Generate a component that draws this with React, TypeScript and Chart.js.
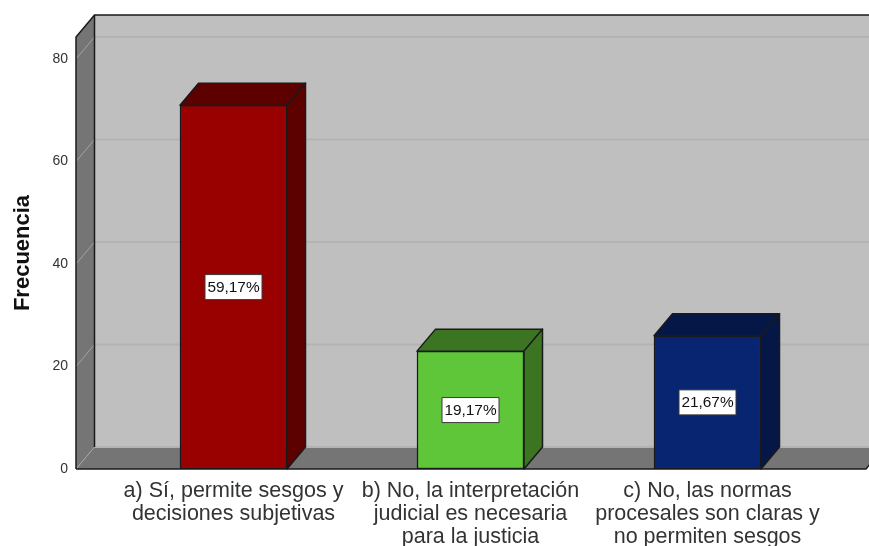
import React, { useEffect, useRef } from "react";
import { Chart, registerables } from "chart.js";

Chart.register(...registerables);

const categories = [
  ["a) Sí, permite sesgos y", "decisiones subjetivas"],
  ["b) No, la interpretación", "judicial es necesaria", "para la justicia"],
  ["c) No, las normas", "procesales son claras y", "no permiten sesgos"],
];
const frequencies = [71, 23, 26];
const percentLabels = ["59,17%", "19,17%", "21,67%"];
const frontColors = ["#990000", "#5ec638", "#072570"];
const shadeColors = ["#5c0000", "#3b7522", "#041746"];
const yTicks = [0, 20, 40, 60, 80];

const FONT = "'Liberation Sans', Arial, sans-serif";
const DX = 18.5;
const DY = 22;
const EDGE = "#1a1a1a";

function poly(ctx: CanvasRenderingContext2D, pts: number[][], fill: string | null, stroke: string | null, lw = 1.5) {
  ctx.beginPath();
  pts.forEach((p, i) => (i ? ctx.lineTo(p[0], p[1]) : ctx.moveTo(p[0], p[1])));
  ctx.closePath();
  if (fill) {
    ctx.fillStyle = fill;
    ctx.fill();
  }
  if (stroke) {
    ctx.strokeStyle = stroke;
    ctx.lineWidth = lw;
    ctx.lineJoin = "round";
    ctx.stroke();
  }
}

const box3d = {
  id: "box3d",
  beforeDatasetsDraw(chart: any) {
    const { ctx, chartArea, scales } = chart;
    const y = scales.y;
    const left = chartArea.left - 39;
    const right = chartArea.right + 40;
    const top = chartArea.top;
    const bottom = chartArea.bottom;
    ctx.save();
    poly(ctx, [[left + DX, top - DY], [right + DX, top - DY], [right + DX, bottom - DY], [left + DX, bottom - DY]], "#bfbfbf", null);
    poly(ctx, [[left, top], [left + DX, top - DY], [left + DX, bottom - DY], [left, bottom]], "#757575", null);
    poly(ctx, [[left, bottom], [left + DX, bottom - DY], [right + DX, bottom - DY], [right, bottom]], "#757575", null);
    yTicks.forEach((v) => {
      const py = y.getPixelForValue(v);
      ctx.strokeStyle = "#b3b3b3";
      ctx.lineWidth = 2;
      ctx.beginPath();
      ctx.moveTo(left + DX, py - DY);
      ctx.lineTo(right + DX, py - DY);
      ctx.stroke();
      ctx.strokeStyle = "#a3a3a3";
      ctx.lineWidth = 1;
      ctx.beginPath();
      ctx.moveTo(left, py);
      ctx.lineTo(left + DX, py - DY);
      ctx.stroke();
    });
    ctx.strokeStyle = EDGE;
    ctx.lineWidth = 1.5;
    ctx.beginPath();
    ctx.moveTo(left, bottom);
    ctx.lineTo(left, top);
    ctx.lineTo(left + DX, top - DY);
    ctx.lineTo(right + DX, top - DY);
    ctx.moveTo(left + DX, top - DY);
    ctx.lineTo(left + DX, bottom - DY);
    ctx.moveTo(left, bottom);
    ctx.lineTo(right, bottom);
    ctx.lineTo(right + DX, bottom - DY);
    ctx.stroke();
    ctx.restore();
  },
  afterDatasetsDraw(chart: any) {
    const { ctx } = chart;
    const bars = chart.getDatasetMeta(0).data;
    ctx.save();
    bars.forEach((bar: any, i: number) => {
      const { x, y, base, width } = bar.getProps(["x", "y", "base", "width"], true);
      const l = x - width / 2;
      const r = x + width / 2;
      poly(ctx, [[l, y], [l + DX, y - DY], [r + DX, y - DY], [r, y]], shadeColors[i], EDGE);
      poly(ctx, [[r, y], [r + DX, y - DY], [r + DX, base - DY], [r, base]], shadeColors[i], EDGE);
      const label = percentLabels[i];
      const cy = (y + base) / 2;
      ctx.font = `15.4px ${FONT}`;
      const bw = 57;
      const bh = 25;
      ctx.fillStyle = "#ffffff";
      ctx.fillRect(x - bw / 2, cy - bh / 2, bw, bh);
      ctx.strokeStyle = "#3a3a3a";
      ctx.lineWidth = 1;
      ctx.strokeRect(x - bw / 2, cy - bh / 2, bw, bh);
      ctx.fillStyle = "#111111";
      ctx.textAlign = "center";
      ctx.textBaseline = "middle";
      ctx.fillText(label, x, cy + 0.5);
    });
    ctx.restore();
  },
};

export default function App() {
  const ref = useRef<HTMLCanvasElement | null>(null);
  useEffect(() => {
    const chart = new Chart(ref.current as HTMLCanvasElement, {
      type: "bar",
      data: {
        labels: categories as any,
        datasets: [
          {
            label: "Frecuencia",
            data: frequencies,
            backgroundColor: frontColors,
            borderColor: EDGE,
            borderWidth: 1.5,
            borderSkipped: false,
            barThickness: 107,
          },
        ],
      },
      options: {
        responsive: false,
        animation: false,
        layout: { padding: { left: 0, right: 43, top: 37, bottom: 0 } },
        plugins: { legend: { display: false }, tooltip: { enabled: false } },
        scales: {
          x: {
            grid: { display: false, drawTicks: false },
            border: { display: false },
            afterFit(scale: any) {
              scale.height = 77;
            },
            ticks: {
              autoSkip: false,
              maxRotation: 0,
              minRotation: 0,
              padding: 11,
              color: "#333333",
              font: { family: FONT, size: 21.5, lineHeight: 1.07 },
            },
          },
          y: {
            min: 0,
            max: 84.3,
            grid: { display: false, drawTicks: false },
            border: { display: false },
            afterBuildTicks(scale: any) {
              scale.ticks = yTicks.map((value) => ({ value }));
            },
            afterFit(scale: any) {
              scale.width = 115;
              scale.paddingTop = 0;
              scale.paddingBottom = 0;
            },
            ticks: {
              padding: 47,
              color: "#333333",
              font: { family: FONT, size: 14 },
            },
            title: {
              display: true,
              text: "Frecuencia",
              color: "#111111",
              font: { family: FONT, size: 22, weight: "bold" },
              padding: { top: 10, bottom: 0 },
            },
          },
        },
      },
      plugins: [box3d],
    } as any);
    return () => chart.destroy();
  }, []);
  return (
    <div style={{ position: "absolute", left: 0, top: 0, width: 869, height: 546, overflow: "hidden", background: "#fff" }}>
      <canvas ref={ref} width={869} height={546} style={{ display: "block" }} />
    </div>
  );
}
